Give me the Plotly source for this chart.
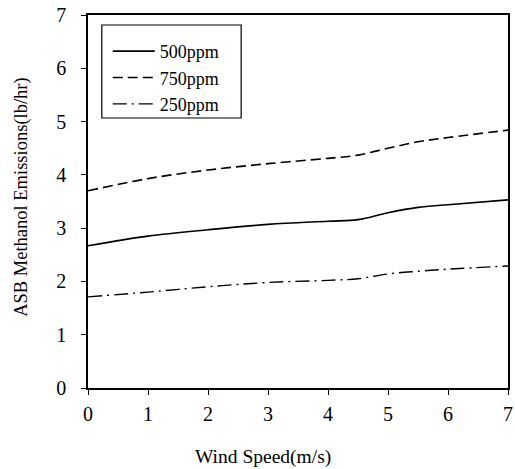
import plotly.graph_objects as go

wind_speed = [0, 1, 2, 3, 4, 4.5, 5, 5.5, 6, 7]
ppm_500 = [2.67, 2.85, 2.97, 3.07, 3.13, 3.16, 3.29, 3.39, 3.44, 3.53]
ppm_750 = [3.70, 3.93, 4.09, 4.21, 4.31, 4.37, 4.50, 4.62, 4.70, 4.84]
ppm_250 = [1.71, 1.80, 1.90, 1.98, 2.02, 2.05, 2.14, 2.19, 2.23, 2.29]

x_ticks = [0, 1, 2, 3, 4, 5, 6, 7]
y_ticks = [0, 1, 2, 3, 4, 5, 6, 7]

font_family = "Liberation Serif, Times New Roman, serif"

fig = go.Figure()
fig.add_trace(go.Scatter(x=wind_speed, y=ppm_500, name="500ppm", mode="lines",
                         line=dict(color="black", width=1.6, shape="spline", smoothing=1.0)))
fig.add_trace(go.Scatter(x=wind_speed, y=ppm_750, name="750ppm", mode="lines",
                         line=dict(color="black", width=1.6, dash="10px,5px",
                                   shape="spline", smoothing=1.0)))
fig.add_trace(go.Scatter(x=wind_speed, y=ppm_250, name="250ppm", mode="lines",
                         line=dict(color="black", width=1.4, dash="14px,5px,2px,5px",
                                   shape="spline", smoothing=1.0)))

# axis titles placed as annotations (x title sits left of the axis centre)
fig.add_annotation(text="Wind Speed(m/s)", xref="paper", yref="paper",
                   x=0.4165, y=-0.185, xanchor="center", yanchor="middle",
                   showarrow=False, font=dict(size=19.5, family=font_family, color="black"))
fig.add_annotation(text="ASB Methanol Emissions(lb/hr)", xref="paper", yref="paper",
                   x=-0.16, y=0.512, xanchor="center", yanchor="middle", textangle=-90,
                   showarrow=False, font=dict(size=18.5, family=font_family, color="black"))

# frame around the legend block
fig.add_shape(type="rect", xref="paper", yref="paper",
              x0=0.0329, x1=0.3647, y0=0.7239, y1=0.9732,
              line=dict(color="black", width=1.2), fillcolor="rgba(0,0,0,0)")

fig.update_layout(
    width=515, height=469,
    margin=dict(l=88, r=2, t=15, b=81),
    paper_bgcolor="white", plot_bgcolor="white",
    font=dict(family=font_family, size=20, color="black"),
    showlegend=True,
    legend=dict(x=0.047, y=0.952, xanchor="left", yanchor="top",
                borderwidth=0, bgcolor="rgba(0,0,0,0)",
                font=dict(size=18, family=font_family),
                itemwidth=42, tracegroupgap=0),
    xaxis=dict(range=[0, 7], tickvals=x_ticks, showgrid=False, zeroline=False,
               showline=True, linecolor="black", linewidth=1.5, mirror=True,
               ticks="outside", ticklen=5, tickcolor="black",
               ticklabeloverflow="allow", ticklabelstandoff=2),
    yaxis=dict(range=[0, 7], tickvals=y_ticks, showgrid=False, zeroline=False,
               showline=True, linecolor="black", linewidth=1.5, mirror=True,
               ticks="outside", ticklen=5, tickcolor="black", ticklabelstandoff=11,
               ticklabeloverflow="allow"),
)

fig.write_html("out.html")
